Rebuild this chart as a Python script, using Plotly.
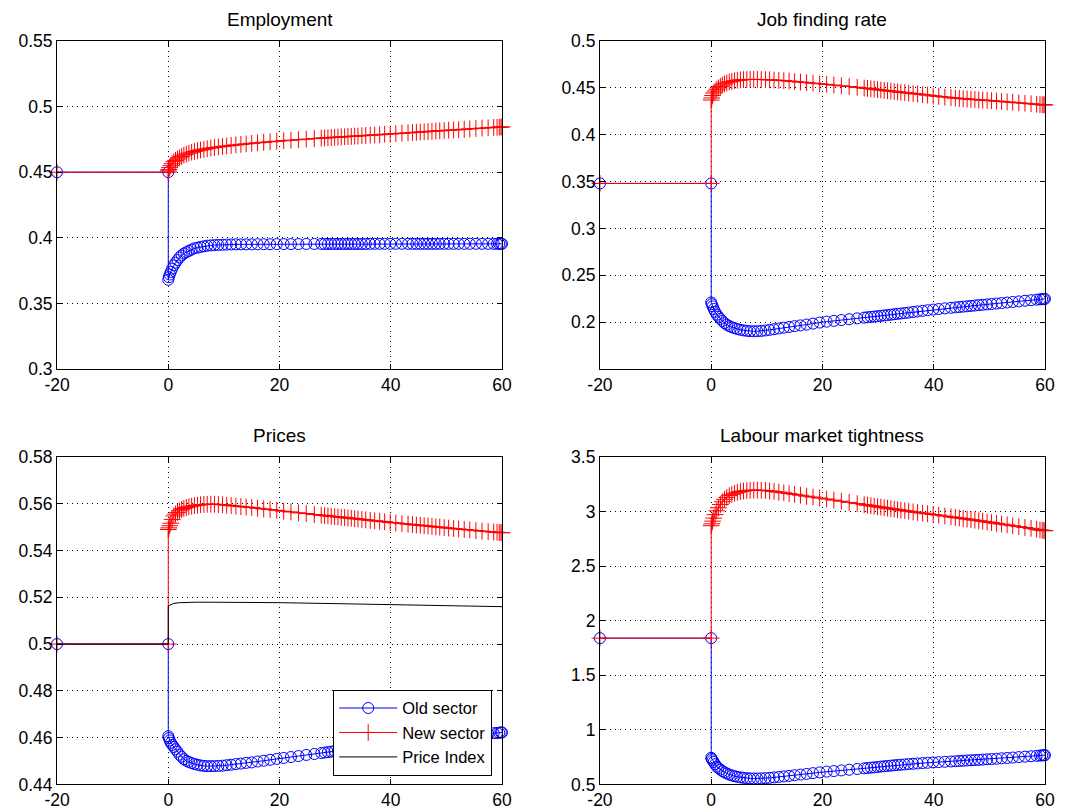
import plotly.graph_objects as go

# ---- shared time grid (periods) ----
T = [-20, 0,
     0, 0.1, 0.25, 0.45, 0.7, 1.0, 1.3, 1.65, 2.0, 2.4,
     2.8, 3.25, 3.7, 4.2, 4.7, 5.25, 5.8, 6.4, 7.0, 7.65,
     8.3, 9.0, 9.75, 10.5, 11.3, 12.15, 13.05, 14.0, 15.0, 16.05,
     17.15, 18.3, 19.5, 20.75, 22.05, 23.4, 24.8, 26.25, 27.5, 28.1,
     28.7, 29.3, 29.9, 30.5, 31.1, 31.7, 32.3, 32.9, 33.5, 34.1,
     34.8, 35.5, 36.3, 37.1, 38.0, 38.9, 39.9, 40.9, 42.0, 43.1,
     43.9, 44.6, 45.3, 46.0, 46.7, 47.4, 48.1, 48.8, 49.6, 50.4,
     51.3, 52.2, 53.2, 54.2, 55.3, 56.4, 57.5, 58.5, 59.1, 59.5,
     59.8, 60.0]

emp_old = [0.45, 0.45,
           0.368, 0.370, 0.372, 0.374, 0.3765, 0.379, 0.381, 0.383, 0.385, 0.3865,
           0.388, 0.389, 0.390, 0.391, 0.392, 0.3925, 0.393, 0.3935, 0.394, 0.3942,
           0.3944, 0.3946, 0.3947, 0.3948, 0.3949, 0.395, 0.395, 0.395, 0.395, 0.3951,
           0.3951, 0.3951, 0.3952, 0.3952, 0.3952, 0.3952, 0.3953, 0.3953, 0.3953, 0.3953,
           0.3953, 0.3953, 0.3953, 0.3953, 0.3953, 0.3953, 0.3953, 0.3953, 0.3953, 0.3953,
           0.3953, 0.3953, 0.3954, 0.3954, 0.3954, 0.3954, 0.3954, 0.3954, 0.3954, 0.3954,
           0.3954, 0.3954, 0.3954, 0.3954, 0.3954, 0.3954, 0.3954, 0.3954, 0.3954, 0.3954,
           0.3954, 0.3954, 0.3954, 0.3954, 0.3954, 0.3954, 0.3954, 0.3954, 0.3954, 0.3954,
           0.3954, 0.3954]
emp_new = [0.45, 0.45,
           0.451, 0.452, 0.4535, 0.455, 0.4565, 0.458, 0.459, 0.460, 0.461, 0.462,
           0.463, 0.4637, 0.4645, 0.4652, 0.4658, 0.4664, 0.4669, 0.4674, 0.4679, 0.4684,
           0.4688, 0.4692, 0.4696, 0.4700, 0.4704, 0.4708, 0.4712, 0.4716, 0.4720, 0.4724,
           0.4728, 0.4732, 0.4736, 0.4740, 0.4744, 0.4748, 0.4752, 0.4756, 0.4760, 0.4761,
           0.4763, 0.4764, 0.4766, 0.4767, 0.4769, 0.4770, 0.4772, 0.4773, 0.4775, 0.4776,
           0.4778, 0.4780, 0.4782, 0.4784, 0.4786, 0.4789, 0.4791, 0.4794, 0.4797, 0.4800,
           0.4802, 0.4804, 0.4806, 0.4808, 0.4810, 0.4812, 0.4814, 0.4816, 0.4818, 0.4820,
           0.4822, 0.4824, 0.4827, 0.4830, 0.4833, 0.4836, 0.4838, 0.4841, 0.4842, 0.4843,
           0.4844, 0.4845]

jfr_old = [0.348, 0.348,
           0.2210, 0.2192, 0.2168, 0.2140, 0.2110, 0.2080, 0.2058, 0.2035, 0.2012, 0.1990,
           0.1972, 0.1958, 0.1946, 0.1935, 0.1926, 0.1918, 0.1912, 0.1907, 0.1903, 0.1902,
           0.1903, 0.1906, 0.1911, 0.1917, 0.1924, 0.1932, 0.1940, 0.1948, 0.1957, 0.1965,
           0.1974, 0.1984, 0.1995, 0.2005, 0.2013, 0.2022, 0.2031, 0.2040, 0.2048, 0.2052,
           0.2056, 0.2059, 0.2063, 0.2067, 0.2071, 0.2075, 0.2079, 0.2084, 0.2088, 0.2092,
           0.2097, 0.2102, 0.2108, 0.2114, 0.2120, 0.2127, 0.2134, 0.2140, 0.2147, 0.2153,
           0.2157, 0.2161, 0.2165, 0.2169, 0.2173, 0.2177, 0.2181, 0.2185, 0.2189, 0.2193,
           0.2198, 0.2203, 0.2209, 0.2215, 0.2221, 0.2228, 0.2234, 0.2240, 0.2243, 0.2245,
           0.2247, 0.2248]
jfr_new = [0.348, 0.348,
           0.4370, 0.4392, 0.4418, 0.4445, 0.4465, 0.4485, 0.4500, 0.4515, 0.4530, 0.4542,
           0.4553, 0.4562, 0.4569, 0.4576, 0.4581, 0.4585, 0.4588, 0.4589, 0.4590, 0.4590,
           0.4590, 0.4589, 0.4588, 0.4586, 0.4583, 0.4580, 0.4577, 0.4573, 0.4567, 0.4562,
           0.4556, 0.4550, 0.4544, 0.4537, 0.4530, 0.4522, 0.4514, 0.4506, 0.4498, 0.4494,
           0.4490, 0.4486, 0.4481, 0.4477, 0.4473, 0.4469, 0.4465, 0.4461, 0.4457, 0.4453,
           0.4449, 0.4444, 0.4439, 0.4434, 0.4428, 0.4422, 0.4414, 0.4408, 0.4401, 0.4395,
           0.4391, 0.4387, 0.4384, 0.4381, 0.4378, 0.4375, 0.4372, 0.4369, 0.4366, 0.4363,
           0.4359, 0.4355, 0.4350, 0.4346, 0.4340, 0.4335, 0.4330, 0.4325, 0.4322, 0.4320,
           0.4319, 0.4318]

price_old = [0.5, 0.5,
             0.4606, 0.4598, 0.4588, 0.4578, 0.4569, 0.4560, 0.4550, 0.4540, 0.4527, 0.4518,
             0.4508, 0.4501, 0.4496, 0.4491, 0.4487, 0.4484, 0.4481, 0.4479, 0.4478, 0.4478,
             0.4478, 0.4479, 0.4480, 0.4482, 0.4484, 0.4487, 0.4489, 0.4492, 0.4494, 0.4498,
             0.4501, 0.4505, 0.4509, 0.4513, 0.4517, 0.4521, 0.4526, 0.4530, 0.4534, 0.4536,
             0.4538, 0.4540, 0.4542, 0.4544, 0.4546, 0.4548, 0.4550, 0.4552, 0.4554, 0.4556,
             0.4558, 0.4560, 0.4563, 0.4565, 0.4568, 0.4571, 0.4574, 0.4577, 0.4580, 0.4583,
             0.4585, 0.4587, 0.4589, 0.4590, 0.4592, 0.4594, 0.4595, 0.4597, 0.4599, 0.4601,
             0.4603, 0.4605, 0.4607, 0.4610, 0.4612, 0.4615, 0.4617, 0.4619, 0.4620, 0.4621,
             0.4622, 0.4622]
price_new = [0.5, 0.5,
             0.5490, 0.5497, 0.5506, 0.5517, 0.5533, 0.5548, 0.5556, 0.5563, 0.5570, 0.5576,
             0.5580, 0.5584, 0.5587, 0.5590, 0.5592, 0.5594, 0.5596, 0.5597, 0.5598, 0.5598,
             0.5598, 0.5597, 0.5596, 0.5594, 0.5592, 0.5590, 0.5588, 0.5586, 0.5584, 0.5581,
             0.5578, 0.5575, 0.5572, 0.5568, 0.5565, 0.5561, 0.5558, 0.5554, 0.5551, 0.5550,
             0.5548, 0.5546, 0.5545, 0.5544, 0.5542, 0.5541, 0.5539, 0.5538, 0.5536, 0.5535,
             0.5533, 0.5531, 0.5529, 0.5527, 0.5525, 0.5523, 0.5520, 0.5518, 0.5515, 0.5513,
             0.5511, 0.5509, 0.5508, 0.5506, 0.5505, 0.5503, 0.5501, 0.5500, 0.5498, 0.5496,
             0.5494, 0.5492, 0.5490, 0.5488, 0.5485, 0.5483, 0.5481, 0.5479, 0.5478, 0.5477,
             0.5477, 0.5476]

T_index = [-20, 0, 0, 0.5, 1, 2, 3, 5, 8, 12, 20, 30, 40, 50, 60]
price_index = [0.5, 0.5, 0.5163, 0.5170, 0.5174, 0.5177, 0.5178, 0.5179, 0.5179, 0.5179,
               0.5177, 0.5173, 0.5169, 0.5165, 0.5160]

tight_old = [1.84, 1.84,
             0.744, 0.734, 0.720, 0.705, 0.685, 0.662, 0.650, 0.636, 0.622, 0.610,
             0.600, 0.590, 0.582, 0.575, 0.569, 0.564, 0.560, 0.557, 0.555, 0.554,
             0.554, 0.555, 0.557, 0.560, 0.564, 0.568, 0.573, 0.578, 0.584, 0.590,
             0.596, 0.603, 0.610, 0.617, 0.622, 0.628, 0.634, 0.641, 0.647, 0.650,
             0.653, 0.656, 0.659, 0.663, 0.666, 0.669, 0.672, 0.675, 0.678, 0.680,
             0.683, 0.686, 0.689, 0.692, 0.695, 0.698, 0.701, 0.704, 0.707, 0.710,
             0.712, 0.714, 0.717, 0.719, 0.721, 0.723, 0.725, 0.727, 0.730, 0.732,
             0.735, 0.739, 0.742, 0.746, 0.750, 0.754, 0.758, 0.762, 0.764, 0.766,
             0.767, 0.768]
tight_new = [1.84, 1.84,
             2.870, 2.888, 2.912, 2.940, 2.972, 3.007, 3.035, 3.065, 3.090, 3.112,
             3.130, 3.146, 3.158, 3.168, 3.176, 3.183, 3.188, 3.192, 3.195, 3.196,
             3.196, 3.195, 3.193, 3.189, 3.184, 3.178, 3.172, 3.165, 3.158, 3.150,
             3.141, 3.133, 3.124, 3.115, 3.105, 3.095, 3.084, 3.073, 3.063, 3.058,
             3.054, 3.049, 3.044, 3.040, 3.035, 3.031, 3.026, 3.022, 3.017, 3.013,
             3.008, 3.003, 2.997, 2.992, 2.986, 2.980, 2.973, 2.967, 2.959, 2.951,
             2.946, 2.941, 2.936, 2.931, 2.926, 2.921, 2.916, 2.911, 2.905, 2.899,
             2.892, 2.885, 2.878, 2.870, 2.862, 2.854, 2.846, 2.838, 2.832, 2.829,
             2.826, 2.824]

titles = ["Employment", "Job finding rate", "Prices", "Labour market tightness"]
series_names = ["Old sector", "New sector", "Price Index"]
x_ticks = [-20, 0, 20, 40, 60]
y_ticks = [
    ([0.3, 0.35, 0.4, 0.45, 0.5, 0.55], ["0.3", "0.35", "0.4", "0.45", "0.5", "0.55"]),
    ([0.2, 0.25, 0.3, 0.35, 0.4, 0.45, 0.5], ["0.2", "0.25", "0.3", "0.35", "0.4", "0.45", "0.5"]),
    ([0.44, 0.46, 0.48, 0.5, 0.52, 0.54, 0.56, 0.58], ["0.44", "0.46", "0.48", "0.5", "0.52", "0.54", "0.56", "0.58"]),
    ([0.5, 1, 1.5, 2, 2.5, 3, 3.5], ["0.5", "1", "1.5", "2", "2.5", "3", "3.5"]),
]
y_ranges = [[0.3, 0.55], [0.15, 0.5], [0.44, 0.58], [0.5, 3.5]]

FONT = "Liberation Sans, Arial, Helvetica, sans-serif"
BLUE = "#0000ff"
RED = "#ff0000"

W, H = 1070, 812
xdoms = [[0.0533, 0.4692], [0.5607, 0.9766], [0.0533, 0.4692], [0.5607, 0.9766]]
ydoms = [[0.5456, 0.9495], [0.5456, 0.9495], [0.0340, 0.4372], [0.0340, 0.4372]]

panels = [(emp_old, emp_new), (jfr_old, jfr_new), (price_old, price_new), (tight_old, tight_new)]

fig = go.Figure()
for i, (old, new) in enumerate(panels):
    sfx = "" if i == 0 else str(i + 1)
    show = (i == 2)
    fig.add_trace(go.Scatter(
        x=T, y=old, xaxis="x" + sfx, yaxis="y" + sfx, name=series_names[0],
        mode="lines+markers", showlegend=show, cliponaxis=False,
        line=dict(color=BLUE, width=1),
        marker=dict(symbol="circle-open", size=11, color=BLUE, line=dict(width=1, color=BLUE))))
    fig.add_trace(go.Scatter(
        x=T, y=new, xaxis="x" + sfx, yaxis="y" + sfx, name=series_names[1],
        mode="lines+markers", showlegend=show, cliponaxis=False,
        line=dict(color=RED, width=1),
        marker=dict(symbol="cross-thin-open", size=12, color=RED, line=dict(width=1, color=RED))))
    if i == 2:
        fig.add_trace(go.Scatter(
            x=T_index, y=price_index, xaxis="x3", yaxis="y3", name=series_names[2],
            mode="lines", showlegend=True, line=dict(color="#000000", width=1)))

layout = dict(
    width=W, height=H, autosize=False,
    margin=dict(l=0, r=0, t=0, b=0, pad=0, autoexpand=False),
    paper_bgcolor="white", plot_bgcolor="white",
    font=dict(family=FONT, size=17.5, color="black"),
    showlegend=True,
    hovermode=False,
    legend=dict(x=0.46, y=0.0446, xanchor="right", yanchor="bottom",
                bgcolor="white", bordercolor="black", borderwidth=1,
                font=dict(family=FONT, size=16.5, color="black"),
                itemwidth=58, tracegroupgap=0),
    annotations=[],
)

axis_common = dict(showline=True, linecolor="black", linewidth=1, mirror="ticks",
                   ticks="inside", ticklen=5, tickcolor="black", tickwidth=1,
                   showgrid=True, gridcolor="black", gridwidth=1, griddash="1px,4px",
                   zeroline=False, automargin=False,
                   tickfont=dict(family=FONT, size=17.5, color="black"))

for i in range(4):
    sfx = "" if i == 0 else str(i + 1)
    layout["xaxis" + sfx] = dict(axis_common, domain=xdoms[i], range=[-20, 60],
                                 anchor="y" + sfx, tickvals=x_ticks,
                                 ticktext=[str(v) for v in x_ticks])
    layout["yaxis" + sfx] = dict(axis_common, domain=ydoms[i], range=y_ranges[i],
                                 anchor="x" + sfx, tickvals=y_ticks[i][0],
                                 ticktext=y_ticks[i][1])
    layout["annotations"].append(dict(
        text=titles[i], xref="paper", yref="paper",
        x=(xdoms[i][0] + xdoms[i][1]) / 2, y=ydoms[i][1],
        xanchor="center", yanchor="bottom", yshift=9, showarrow=False,
        font=dict(family=FONT, size=19, color="black")))

fig.update_layout(**layout)
fig.write_html("out.html",
               config={"displayModeBar": False},
               post_script="document.body.style.margin='0';document.body.style.padding='0';document.body.style.overflow='hidden';")
